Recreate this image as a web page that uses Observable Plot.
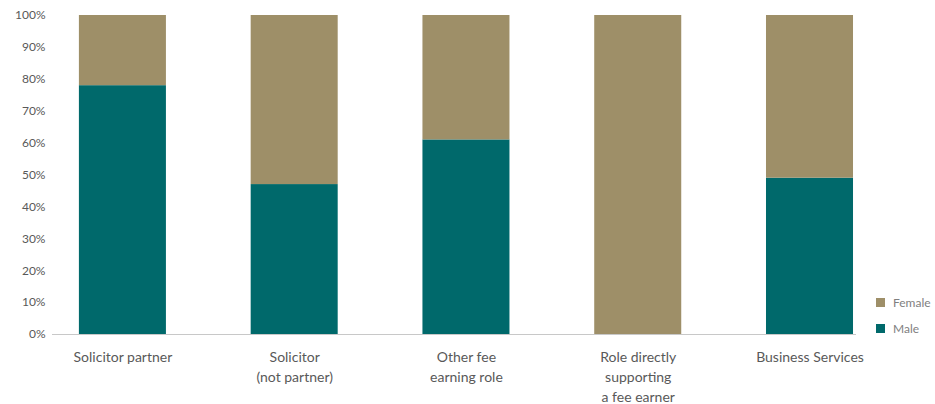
<!DOCTYPE html>
<html>
<head>
<meta charset="utf-8">
<script src="https://cdn.jsdelivr.net/npm/d3@7"></script>
<script src="https://cdn.jsdelivr.net/npm/@observablehq/plot@0.6"></script>
<style>
  html, body { margin: 0; padding: 0; background: #fff; }
  #wrap { position: relative; width: 935px; height: 404px; font-family: Lato, "Open Sans", sans-serif; }
  .legend { position: absolute; left: 876px; font-size: 12px; color: #7f7f7f; }
  .legend .row { display: flex; align-items: center; height: 26px; }
  .legend .sw { width: 9px; height: 9px; margin-right: 8px; }
</style>
</head>
<body>
<div id="wrap"></div>
<script>
const categories = ["Solicitor partner", "Solicitor\n(not partner)", "Other fee\nearning role", "Role directly\nsupporting\na fee earner", "Business Services"];
const male = [78, 47, 61, 0, 49];
const female = [22, 53, 39, 100, 51];
const series = ["Male", "Female"];
const colors = ["#00696B", "#9E8F68"];
const yTicks = [0, 10, 20, 30, 40, 50, 60, 70, 80, 90, 100];

const data = [];
categories.forEach((c, i) => {
  data.push({category: c, series: "Male", value: male[i]});
  data.push({category: c, series: "Female", value: female[i]});
});

const chart = Plot.plot({
  width: 935,
  height: 404,
  marginLeft: 52,
  marginRight: 79,
  marginTop: 15,
  marginBottom: 70,
  style: {fontFamily: "Lato, 'Open Sans', sans-serif", color: "#595959", background: "#fff"},
  x: {domain: categories, paddingInner: 0.4934, paddingOuter: 0.087, align: 0.9, round: false, label: null},
  y: {domain: [0, 100], label: null},
  color: {domain: series, range: colors},
  marks: [
    Plot.barY(data, {x: "category", y: "value", fill: "series", order: series}),
    Plot.ruleY([0], {stroke: "#c8c8c8", strokeWidth: 1}),
    Plot.axisY({ticks: yTicks, tickSize: 0, tickPadding: 7, tickFormat: d => d + "%", fontSize: 12, fill: "#595959"}),
    Plot.axisX({tickSize: 0, tickPadding: 14, fontSize: 14, lineHeight: 1.4, fill: "#595959"})
  ]
});

const wrap = document.getElementById("wrap");
wrap.appendChild(chart);

const legend = document.createElement("div");
legend.className = "legend";
legend.style.top = "289px";
[...series].reverse().forEach(s => {
  const row = document.createElement("div");
  row.className = "row";
  const sw = document.createElement("div");
  sw.className = "sw";
  sw.style.background = colors[series.indexOf(s)];
  const t = document.createElement("span");
  t.textContent = s;
  row.appendChild(sw);
  row.appendChild(t);
  legend.appendChild(row);
});
wrap.appendChild(legend);
</script>
</body>
</html>
